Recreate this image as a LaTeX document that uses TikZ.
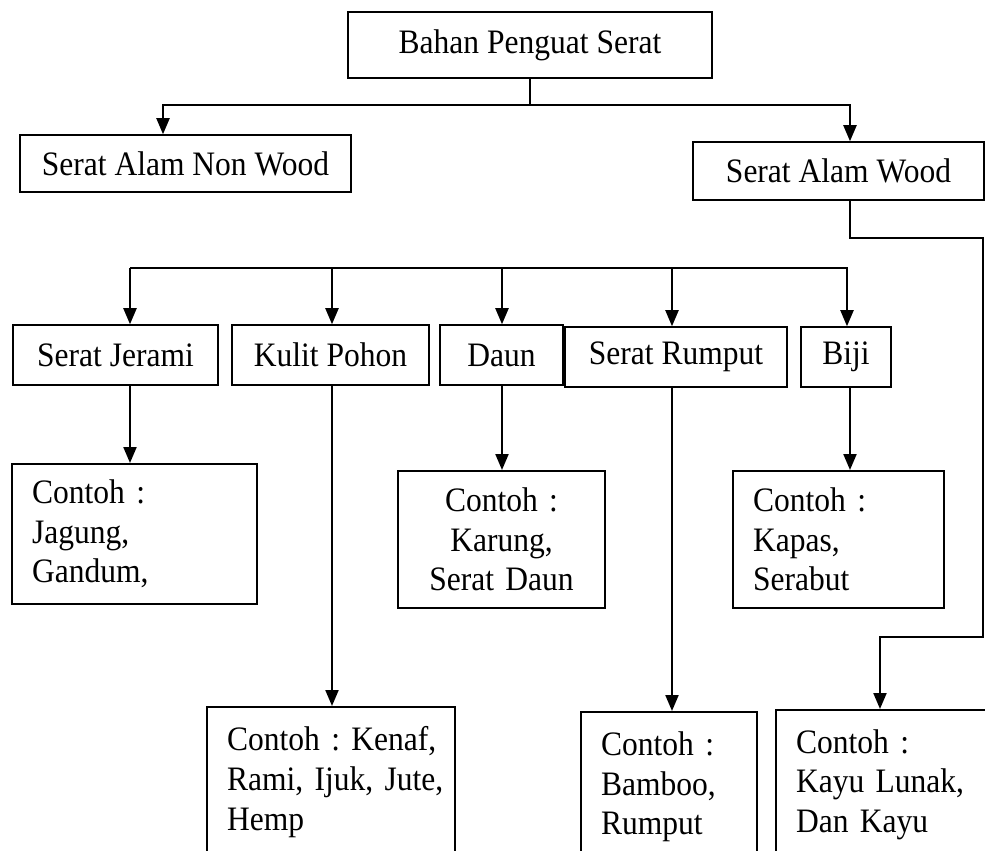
\documentclass[tikz,border=0pt]{standalone}
\usepackage{fontspec}
\setmainfont{Liberation Serif}[FakeStretch=0.92]
\usetikzlibrary{positioning, arrows.meta, calc}
\newcommand{\diagfont}{\fontsize{19.5}{22.7}\selectfont\frenchspacing}

\begin{document}
\begin{tikzpicture}[
  x=0.02cm, y=-0.02cm,
  box/.style={draw, line width=0.9pt, inner sep=2pt, align=center, font=\diagfont},
  cbox/.style={box, anchor=north, align=left, inner xsep=0.4cm, inner ysep=2pt},
  arr/.style={-{Triangle[length=0.32cm, width=0.26cm]}, line width=1.2pt},
  bus/.style={line width=1.2pt},
  stem/.style={line width=0.7pt},
]

% --- Frame ---
\useasboundingbox (0,0) rectangle (985,850);
\fill[white] (0,0) rectangle (985,850);
\clip (0,0) rectangle (985,850);

% --- Root ---
\node[box, minimum width=7.28cm, minimum height=1.32cm] (root) at (530,45) {Bahan Penguat Serat};

% --- Level 1 ---
\node[box, minimum width=6.62cm, minimum height=1.14cm] (nonwood) at (185.5,163.5) {Serat Alam Non Wood};
\node[box, minimum width=5.82cm, minimum height=1.16cm] (wood) at (838.5,171) {Serat Alam Wood};

% --- Level 2 ---
\node[box, minimum width=4.10cm, minimum height=1.2cm] (jerami) at (115.5,355) {Serat Jerami};
\node[box, minimum width=3.94cm, minimum height=1.2cm] (kulit) at (330.5,355) {Kulit Pohon};
\node[box, minimum width=2.46cm, minimum height=1.2cm] (daun) at (501.5,355) {Daun};
\node[box, minimum width=4.44cm, minimum height=1.2cm] (rumput) at (676,357) {Serat Rumput};
\node[box, minimum width=1.80cm, minimum height=1.2cm] (biji) at (846,357) {Biji};

% --- Examples ---
\node[cbox, text width=4.10cm, minimum height=2.8cm] (cjerami) at (134.5,463) {Contoh :\\Jagung,\\Gandum,};
\node[cbox, align=center, text width=3.34cm, minimum height=2.74cm] (cdaun) at (501.5,470) {Contoh :\\Karung,\\\mbox{Serat Daun}};
\node[cbox, text width=3.42cm, minimum height=2.74cm] (cbiji) at (838.5,470) {Contoh :\\Kapas,\\Serabut};
\node[cbox, text width=4.16cm, minimum height=3.0cm] (ckulit) at (331,706) {\mbox{Contoh : Kenaf,}\\\mbox{Rami, Ijuk, Jute,}\\Hemp};
\node[cbox, text width=2.72cm, minimum height=3.0cm] (crumput) at (669,711) {Contoh :\\Bamboo,\\Rumput};
\node[cbox, text width=3.68cm, minimum height=3.0cm] (cwood) at (888,709) {Contoh :\\\mbox{Kayu Lunak,}\\\mbox{Dan Kayu}};

% --- Root split ---
\coordinate (split) at (530,105);
\draw[stem] (root.south) -- (split);
\draw[arr] (split) -| ([xshift=-0.45cm]nonwood.north);
\draw[arr] (split) -| ([xshift=0.23cm]wood.north);

% --- Bus to level 2 ---
\coordinate (busL) at (130,268);
\coordinate (busR) at (848,268);
\draw[bus] (busL) -- (busR);
\foreach \n/\s in {jerami/0.29cm, kulit/0.03cm, daun/0.01cm, rumput/-0.08cm, biji/0.02cm}
  \draw[arr] ([xshift=\s]\n.north |- busL) -- ([xshift=\s]\n.north);

% --- Level 2 to examples ---
\foreach \n/\s in {jerami/0.29cm, kulit/0.03cm, daun/0.01cm, rumput/-0.08cm, biji/0.08cm}
  \draw[arr] ([xshift=\s]\n.south) -- ([xshift=\s]\n.south |- c\n.north);

% --- Wood branch round the right edge ---
\coordinate (bendA) at (983,238);
\coordinate (bendB) at (983,637);
\draw[arr] ([xshift=0.23cm]wood.south) |- (bendA) -- (bendB) -| ([xshift=-0.16cm]cwood.north);

\end{tikzpicture}
\end{document}
